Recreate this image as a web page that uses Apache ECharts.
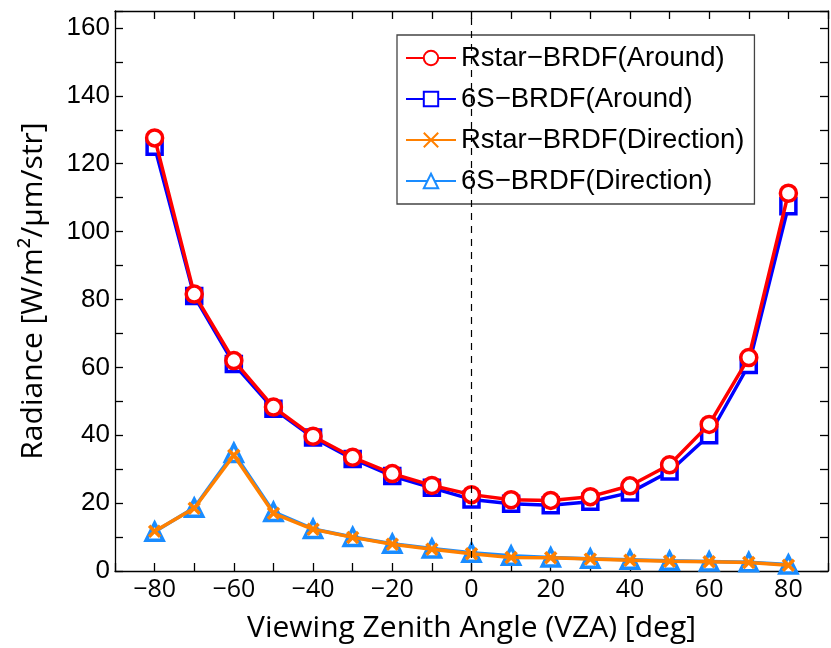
<!DOCTYPE html>
<html>
<head>
<meta charset="utf-8">
<script src="https://cdn.jsdelivr.net/npm/echarts@6/dist/echarts.min.js"></script>
<style>html,body{margin:0;padding:0;background:#fff}#c{width:831px;height:648px}</style>
</head>
<body>
<div id="c"></div>
<script>
const angles = [-80,-70,-60,-50,-40,-30,-20,-10,0,10,20,30,40,50,60,70,80];
const rstarAround = [127.6,81.6,62.0,48.3,39.7,33.5,28.7,25.2,22.5,21.0,20.8,21.9,25.1,31.3,43.2,62.9,111.3];
const sixsAround = [125.0,81.0,61.0,47.8,39.3,33.0,28.0,24.5,21.1,19.8,19.4,20.4,23.1,29.3,40.0,60.7,107.5];
const rstarDirection = [11.7,18.5,34.1,17.0,12.3,9.9,7.9,6.4,5.1,4.0,3.9,3.5,3.2,2.9,2.7,2.5,1.7];
const sixsDirection = [11.6,18.6,34.8,17.4,12.4,10.0,8.0,6.6,5.4,4.5,4.0,3.6,3.3,3.0,2.8,2.6,1.9];
const seriesNames = ['Rstar\u2212BRDF(Around)','6S\u2212BRDF(Around)','Rstar\u2212BRDF(Direction)','6S\u2212BRDF(Direction)'];
const xTickLabels = [-80,-60,-40,-20,0,20,40,60,80];
const yTickLabels = [0,20,40,60,80,100,120,140,160];

const pairs = arr => angles.map((a,i)=>[a,arr[i]]);
const fmtX = v => xTickLabels.includes(v) ? (v<0 ? '\u2212'+Math.abs(v) : String(v)) : '';
const fmtY = v => yTickLabels.includes(v) ? String(v) : '';

const chart = echarts.init(document.getElementById('c'), null, {renderer:'canvas'});
const axisLineStyle = {show:true, onZero:false, lineStyle:{color:'#000', width:1.3}};
const tick = {show:true, inside:true, length:8, lineStyle:{color:'#000', width:1.3}};
chart.setOption({
  animation:false,
  backgroundColor:'#fff',
  grid:{left:115, right:0, top:11, bottom:77},
  legend:{
    data:seriesNames,
    orient:'vertical', left:397, top:35,
    itemWidth:50, itemHeight:18, itemGap:13,
    padding:[9,10,9,8],
    borderColor:'#444', borderWidth:1.3, backgroundColor:'#fff',
    textStyle:{fontSize:27.5, fontFamily:'Liberation Sans, Arial', color:'#000'}
  },
  xAxis:[
    {type:'value', min:-90, max:90, interval:10, position:'bottom',
     axisLine:axisLineStyle, axisTick:tick, splitLine:{show:false},
     axisLabel:{formatter:fmtX, fontSize:25, fontFamily:'Open Sans', color:'#000', margin:6},
     name:'Viewing Zenith Angle (VZA) [deg]', nameLocation:'middle', nameGap:42,
     nameTextStyle:{fontSize:30, fontFamily:'Open Sans', color:'#000'}},
    {type:'value', min:-90, max:90, interval:10, position:'top',
     axisLine:axisLineStyle, axisTick:tick, splitLine:{show:false}, axisLabel:{show:false}}
  ],
  yAxis:[
    {type:'value', min:0, max:165, interval:10, position:'left',
     axisLine:axisLineStyle, axisTick:tick, splitLine:{show:false},
     axisLabel:{formatter:fmtY, fontSize:26, fontFamily:'Liberation Sans, Arial', color:'#000', margin:5},
     name:'Radiance [W/m\u00B2/\u03BCm/str]', nameLocation:'middle', nameGap:67,
     nameTextStyle:{fontSize:30, fontFamily:'Open Sans', color:'#000'}},
    {type:'value', min:0, max:165, interval:10, position:'right',
     axisLine:axisLineStyle, axisTick:tick, splitLine:{show:false}, axisLabel:{show:false}}
  ],
  series:[
    {name:seriesNames[1], type:'line', data:pairs(sixsAround), z:2,
     symbol:'rect', symbolSize:15, showAllSymbol:true,
     lineStyle:{color:'#0000ff', width:3.5},
     itemStyle:{color:'#fff', borderColor:'#0000ff', borderWidth:3.5},
     markLine:{silent:true, symbol:'none', label:{show:false},
       lineStyle:{color:'#000', type:[7,6], width:1.2}, data:[{xAxis:0}]}},
    {name:seriesNames[0], type:'line', data:pairs(rstarAround), z:3,
     symbol:'circle', symbolSize:16, showAllSymbol:true,
     lineStyle:{color:'#ff0000', width:3.5},
     itemStyle:{color:'#fff', borderColor:'#ff0000', borderWidth:3.5}},
    {name:seriesNames[3], type:'line', data:pairs(sixsDirection), z:2,
     symbol:'triangle', symbolSize:17, showAllSymbol:true,
     lineStyle:{color:'#1a8cff', width:3.5},
     itemStyle:{color:'#fff', borderColor:'#1a8cff', borderWidth:3.5}},
    {name:seriesNames[2], type:'line', data:pairs(rstarDirection), z:3,
     symbol:'path://M0,0L10,10M10,0L0,10', symbolSize:11, showAllSymbol:true,
     lineStyle:{color:'#ff8000', width:3.5},
     itemStyle:{color:'#ff8000', borderColor:'#ff8000', borderWidth:3.5}}
  ]
});
</script>
</body>
</html>
